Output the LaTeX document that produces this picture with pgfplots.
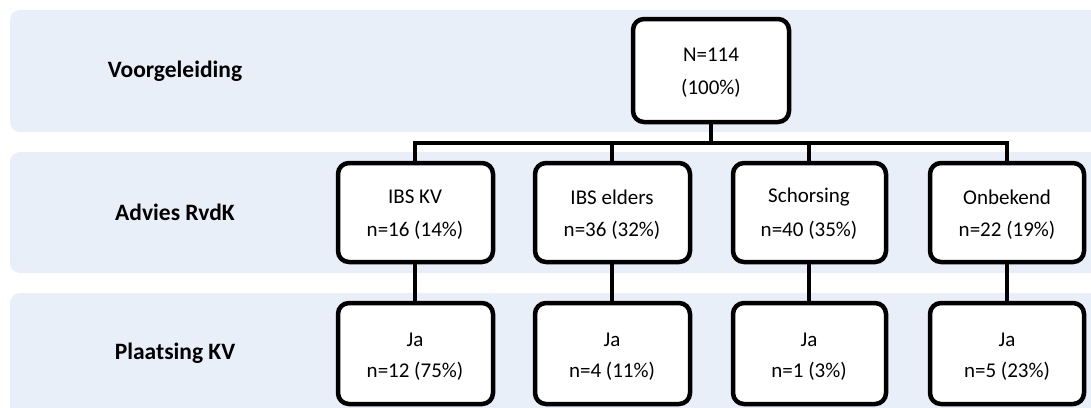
\documentclass[border=0pt]{standalone}
\usepackage{pgfplots}
\pgfplotsset{compat=1.18}
\usepackage{fontspec}
\setmainfont{Carlito}
\definecolor{band}{RGB}{233,239,249}
\begin{document}
\begin{tikzpicture}
\begin{axis}[
  width=1091pt, height=407pt, scale only axis,
  xmin=0, xmax=1091, ymin=0, ymax=407, y dir=reverse,
  axis lines=none, enlargelimits=false, clip=true,
]
\path (rel axis cs:0,0) rectangle (rel axis cs:1,1);
% bands
\addplot[fill=band, draw=none, rounded corners=10pt] coordinates {(10,10) (1110,10) (1110,132) (10,132)} -- cycle;
\addplot[fill=band, draw=none, rounded corners=10pt] coordinates {(10,152) (1110,152) (1110,273) (10,273)} -- cycle;
\addplot[fill=band, draw=none, rounded corners=10pt] coordinates {(10,293) (1110,293) (1110,430) (10,430)} -- cycle;
% connectors
\addplot[black, line width=4pt] coordinates {(711,123) (711,143)};
\addplot[black, line width=4pt, line cap=rect] coordinates {(415,162) (415,143) (1007,143) (1007,162)};
\addplot[black, line width=4pt] coordinates {(612,143) (612,162)};
\addplot[black, line width=4pt] coordinates {(809,143) (809,162)};
\addplot[black, line width=4pt] coordinates {(415,263) (415,302)};
\addplot[black, line width=4pt] coordinates {(612,263) (612,302)};
\addplot[black, line width=4pt] coordinates {(809,263) (809,302)};
\addplot[black, line width=4pt] coordinates {(1007,263) (1007,302)};
% boxes
\addplot[fill=white, draw=black, line width=4.5pt, rounded corners=11pt] coordinates {(633,19) (789,19) (789,122) (633,122)} -- cycle;
\addplot[fill=white, draw=black, line width=4.5pt, rounded corners=11pt] coordinates {(338,163) (493,163) (493,262) (338,262)} -- cycle;
\addplot[fill=white, draw=black, line width=4.5pt, rounded corners=11pt] coordinates {(535,163) (690,163) (690,262) (535,262)} -- cycle;
\addplot[fill=white, draw=black, line width=4.5pt, rounded corners=11pt] coordinates {(733,163) (886,163) (886,262) (733,262)} -- cycle;
\addplot[fill=white, draw=black, line width=4.5pt, rounded corners=11pt] coordinates {(930,163) (1084,163) (1084,262) (930,262)} -- cycle;
\addplot[fill=white, draw=black, line width=4.5pt, rounded corners=11pt] coordinates {(338,303) (493,303) (493,404) (338,404)} -- cycle;
\addplot[fill=white, draw=black, line width=4.5pt, rounded corners=11pt] coordinates {(535,303) (690,303) (690,404) (535,404)} -- cycle;
\addplot[fill=white, draw=black, line width=4.5pt, rounded corners=11pt] coordinates {(733,303) (886,303) (886,404) (733,404)} -- cycle;
\addplot[fill=white, draw=black, line width=4.5pt, rounded corners=11pt] coordinates {(930,303) (1084,303) (1084,404) (930,404)} -- cycle;
% labels
\tikzset{lb/.style={font=\fontsize{23.5}{27}\selectfont\bfseries}}
\node[lb] at (axis cs:175,71) {Voorgeleiding};
\node[lb] at (axis cs:175,212) {Advies RvdK};
\node[lb] at (axis cs:175,353) {Plaatsing KV};
% box texts
\tikzset{bt/.style={font=\fontsize{21}{25}\selectfont}}
\node[bt] at (axis cs:711,55) {N=114};
\node[bt] at (axis cs:711,88) {(100\%)};
\node[bt] at (axis cs:415,197) {IBS KV};
\node[bt] at (axis cs:415,230) {n=16 (14\%)};
\node[bt] at (axis cs:612,197) {IBS elders};
\node[bt] at (axis cs:612,230) {n=36 (32\%)};
\node[bt] at (axis cs:809,197) {Schorsing};
\node[bt] at (axis cs:809,230) {n=40 (35\%)};
\node[bt] at (axis cs:1007,197) {Onbekend};
\node[bt] at (axis cs:1007,230) {n=22 (19\%)};
\node[bt] at (axis cs:415,340) {Ja};
\node[bt] at (axis cs:415,371) {n=12 (75\%)};
\node[bt] at (axis cs:612,340) {Ja};
\node[bt] at (axis cs:612,371) {n=4 (11\%)};
\node[bt] at (axis cs:809,340) {Ja};
\node[bt] at (axis cs:809,371) {n=1 (3\%)};
\node[bt] at (axis cs:1007,340) {Ja};
\node[bt] at (axis cs:1007,371) {n=5 (23\%)};
\end{axis}
\end{tikzpicture}
\end{document}
